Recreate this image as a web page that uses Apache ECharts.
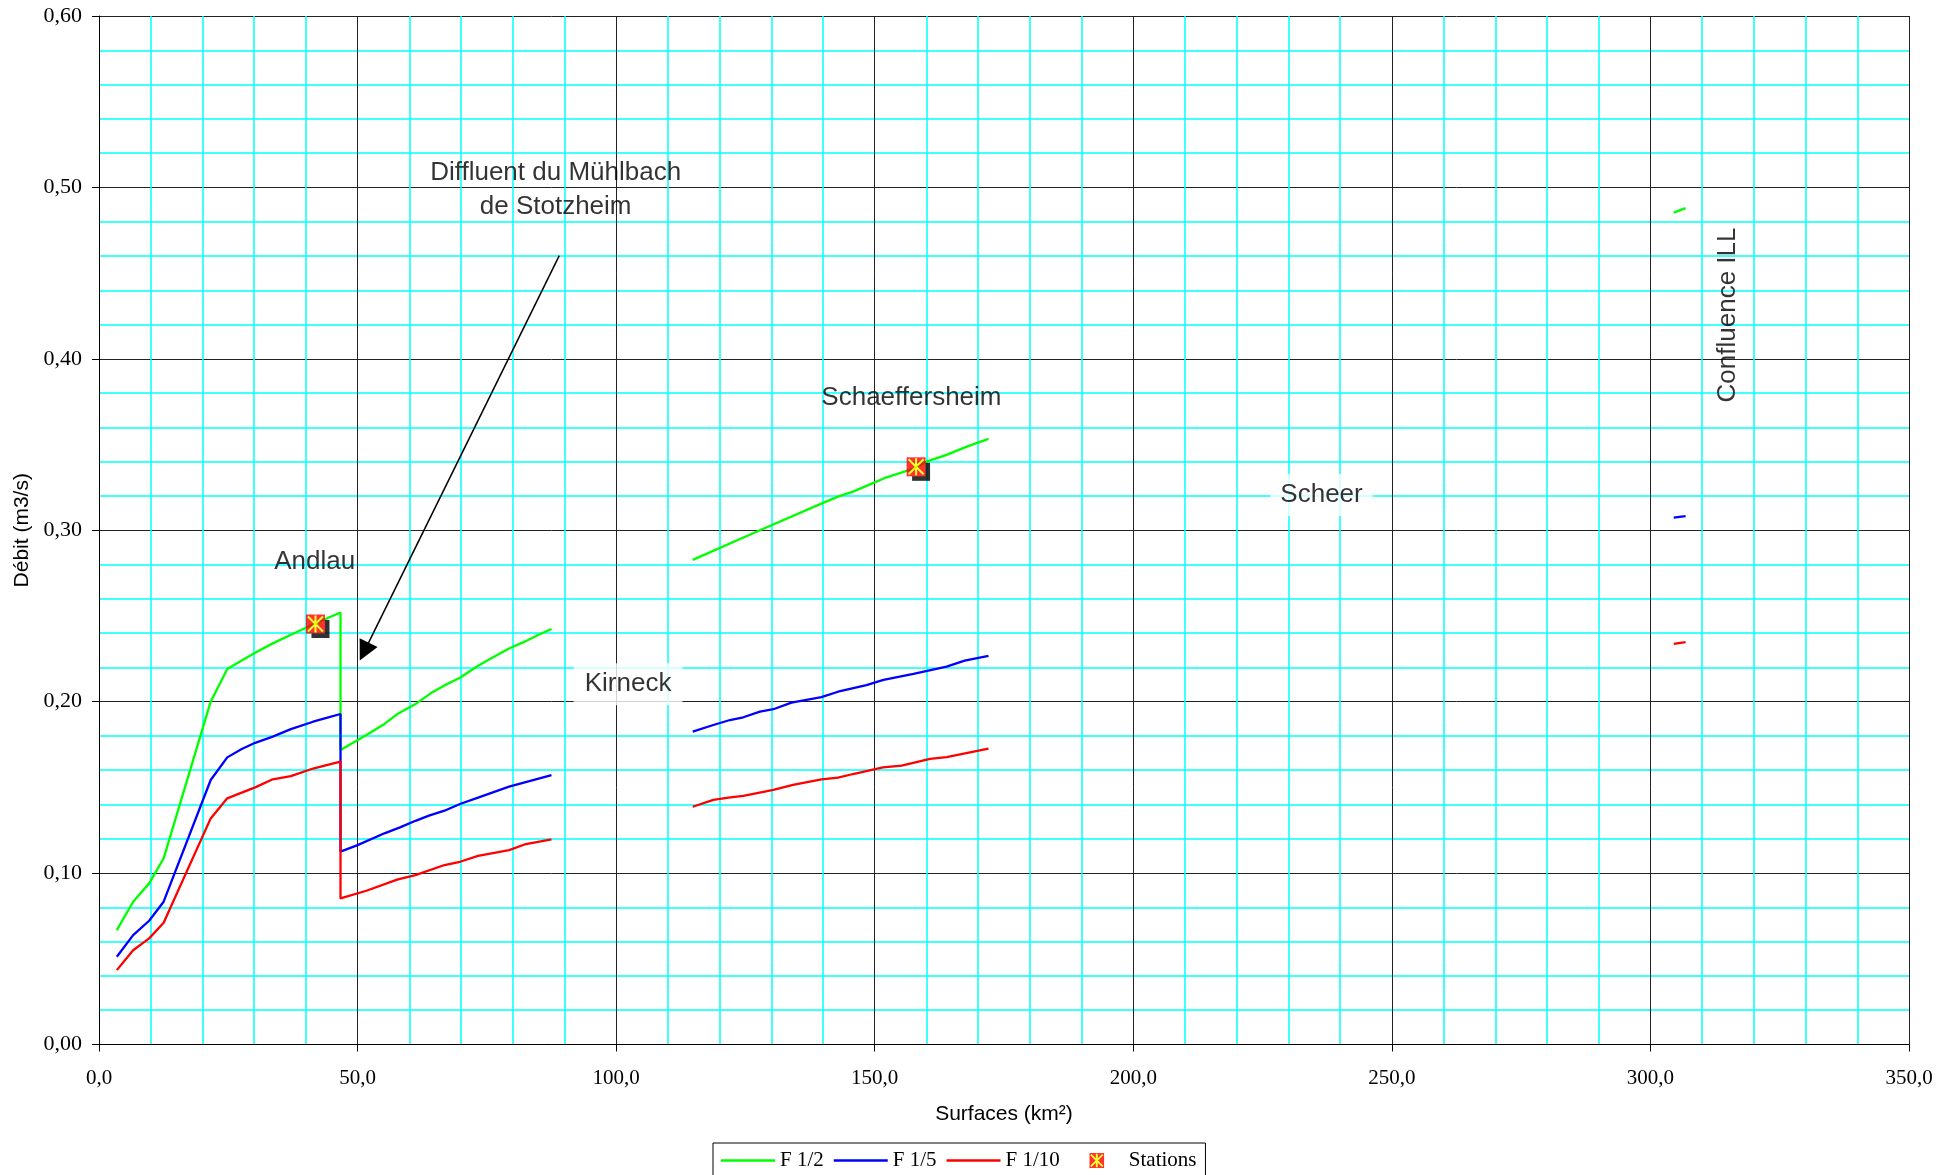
<!DOCTYPE html>
<html>
<head>
<meta charset="utf-8">
<script src="https://cdn.jsdelivr.net/npm/echarts@6/dist/echarts.min.js"></script>
<style>
html,body{margin:0;padding:0;background:#fff;}
#chart{width:1957px;height:1175px;}
</style>
</head>
<body>
<div id="chart"></div>
<script>
// ---- Data (surface km², débit m3/s) ----
// Segment 1 : Andlau (amont + diffluent du Mühlbach)
const F12_andlau = [[3.45,0.0667],[6.6,0.0833],[9.7,0.094],[12.5,0.1086],[21.6,0.200],[24.8,0.219],[27.6,0.224],[30.2,0.2285],[33.6,0.234],[37.1,0.239],[41.4,0.245],[44.0,0.2485],[46.7,0.252],
  [46.7,0.1718],[51.7,0.1805],[55.2,0.187],[57.8,0.193],[61.2,0.1986],[64.2,0.205],[66.8,0.2095],[69.8,0.214],[73.3,0.221],[76.3,0.226],[79.3,0.231],[82.3,0.235],[85.0,0.239],[87.5,0.2424]];
const F15_andlau = [[3.45,0.0512],[6.6,0.0638],[9.7,0.0722],[12.5,0.0833],[21.6,0.1543],[24.8,0.1675],[27.6,0.1724],[30.2,0.176],[33.6,0.1796],[37.1,0.184],[41.4,0.1883],[44.0,0.1905],[46.7,0.1928],
  [46.7,0.1125],[50.0,0.1163],[55.2,0.1232],[58.2,0.1267],[61.2,0.1305],[63.8,0.1335],[66.8,0.1364],[69.8,0.1403],[73.3,0.144],[79.3,0.1504],[87.5,0.1572]];
const F110_andlau = [[3.45,0.0434],[6.6,0.055],[9.7,0.0619],[12.5,0.071],[21.6,0.1319],[24.8,0.1436],[27.6,0.1469],[30.2,0.150],[33.6,0.1547],[37.1,0.1566],[41.4,0.161],[44.0,0.163],[46.7,0.165],
  [46.7,0.0852],[51.7,0.0897],[57.8,0.0963],[61.2,0.0988],[66.8,0.1047],[69.8,0.1066],[73.3,0.110],[79.3,0.1134],[82.3,0.1167],[87.5,0.1197]];
// Segment 2 : Schaeffersheim
const F12_schaef = [[114.8,0.2827],[127.8,0.300],[139.9,0.3158],[142.9,0.3196],[145.8,0.3225],[149.9,0.3278],[152.3,0.3309],[157.5,0.336],[160.0,0.340],[163.9,0.344],[167.8,0.3488],[172.0,0.3533]];
const F15_schaef = [[114.8,0.1825],[118.8,0.1864],[122.0,0.1893],[124.6,0.1909],[127.8,0.1942],[130.4,0.1956],[133.9,0.1994],[139.7,0.2026],[142.9,0.2058],[148.4,0.2097],[151.7,0.2127],[157.5,0.2162],[163.9,0.2204],[167.4,0.2239],[172.0,0.2267]];
const F110_schaef = [[114.8,0.1387],[118.8,0.1427],[121.7,0.1440],[124.6,0.145],[130.4,0.1485],[134.2,0.1514],[139.7,0.1547],[142.9,0.1557],[145.8,0.1578],[151.6,0.1617],[155.2,0.1627],[160.7,0.1666],[163.9,0.1676],[172.0,0.1726]];
// Segment 3 : Confluence Ill
const F12_ill = [[304.5,0.4853],[306.8,0.4879]];
const F15_ill = [[304.5,0.3073],[306.8,0.3083]];
const F110_ill = [[304.5,0.2337],[306.8,0.2347]];
// Stations
const stationNames = ['Andlau','Schaeffersheim'];
const stationPoints = [[41.86,0.2453],[158.0,0.337]];
// Annotations
const annotationTexts = ['Andlau','Kirneck','Schaeffersheim','Scheer','Confluence ILL','Diffluent du Mühlbach\nde Stotzheim'];
const annotationAnchors = [[41.7,0.2815],[102.3,0.2102],[157.1,0.3775],[236.4,0.3205],[314.9,0.4256],[88.3,0.4985]];
const arrowFrom = [89.0,0.4602];
const arrowTo = [51.28,0.2292];
// Axis
const xMin = 0, xMax = 350, xStep = 50;
const yMin = 0, yMax = 0.6, yStep = 0.1;
const seriesNames = ['F 1/2','F 1/5','F 1/10','Stations'];

// ---- Styles ----
const colors = {'F 1/2':'#00ff00','F 1/5':'#0000ff','F 1/10':'#ff0000'};
const markerSvg = '<svg xmlns="http://www.w3.org/2000/svg" width="31" height="31" viewBox="0 0 31 31">' +
  '<rect x="11.5" y="11.5" width="18" height="18" fill="#000"/>' +
  '<rect x="6" y="6" width="19" height="19" fill="#ff0000"/>' +
  '<path d="M8 8 L23 23 M23 8 L8 23 M15.5 7 L15.5 24" stroke="#ffff00" stroke-width="2" fill="none"/></svg>';
const legendSvg = '<svg xmlns="http://www.w3.org/2000/svg" width="15" height="15" viewBox="0 0 19 19">' +
  '<rect x="0" y="0" width="19" height="19" fill="#ff0000"/>' +
  '<path d="M2 2 L17 17 M17 2 L2 17 M9.5 1 L9.5 18" stroke="#ffff00" stroke-width="2.4" fill="none"/></svg>';
const markerIcon = 'image://data:image/svg+xml;charset=utf-8,' + encodeURIComponent(markerSvg);
const legendIcon = 'image://data:image/svg+xml;charset=utf-8,' + encodeURIComponent(legendSvg);
const lineIcon = 'path://M0,0 L54,0 L54,2.5 L0,2.5 Z';

function lineSeries(name, data) {
  return {
    name: name, type: 'line', data: data, symbol: 'none', smooth: false,
    lineStyle: {color: colors[name], width: 2.3}, itemStyle: {color: colors[name]},
    emphasis: {disabled: true}, silent: true, z: 3
  };
}

const chart = echarts.init(document.getElementById('chart'), null, {renderer: 'canvas'});
const option = {
  backgroundColor: '#ffffff',
  animation: false,
  grid: {left: 99, right: 48, top: 16, bottom: 130.5, containLabel: false},
  legend: {
    left: 713, top: 1143, orient: 'horizontal',
    itemWidth: 54, itemHeight: 15, itemGap: 10,
    padding: [7, 9, 14, 8],
    borderColor: '#000', borderWidth: 1, backgroundColor: '#fff',
    textStyle: {fontFamily: 'Liberation Serif', fontSize: 21, color: '#000'},
    selectedMode: false,
    data: [{name: seriesNames[0], icon: lineIcon}, {name: seriesNames[1], icon: lineIcon}, {name: seriesNames[2], icon: lineIcon}, {name: seriesNames[3], icon: legendIcon}]
  },
  xAxis: {
    type: 'value', min: xMin, max: xMax, interval: xStep,
    name: 'Surfaces (km²)', nameLocation: 'middle', nameGap: 59,
    nameTextStyle: {fontFamily: 'Liberation Sans', fontSize: 21, color: '#000'},
    axisLine: {show: true, onZero: false, lineStyle: {color: '#000', width: 1}},
    axisTick: {show: true, length: 7, lineStyle: {color: '#000'}},
    axisLabel: {formatter: v => v.toFixed(1).replace('.', ','), fontFamily: 'Liberation Serif', fontSize: 21, color: '#000', margin: 23},
    splitLine: {show: true, lineStyle: {color: '#222', width: 1}},
    minorTick: {show: false, splitNumber: 5},
    minorSplitLine: {show: true, lineStyle: {color: '#00ffff', width: 1.5}}
  },
  yAxis: {
    type: 'value', min: yMin, max: yMax, interval: yStep,
    name: 'Débit (m3/s)', nameLocation: 'middle', nameGap: 65,
    nameTextStyle: {fontFamily: 'Liberation Sans', fontSize: 21, color: '#000'},
    axisLine: {show: true, onZero: false, lineStyle: {color: '#000', width: 1}},
    axisTick: {show: true, length: 7, lineStyle: {color: '#000'}},
    axisLabel: {formatter: v => v.toFixed(2).replace('.', ','), fontFamily: 'Liberation Serif', fontSize: 22, color: '#000', margin: 17},
    splitLine: {show: true, lineStyle: {color: '#222', width: 1}},
    minorTick: {show: false, splitNumber: 5},
    minorSplitLine: {show: true, lineStyle: {color: '#00ffff', width: 1.5}}
  },
  series: [
    lineSeries('F 1/2', F12_andlau), lineSeries('F 1/2', F12_schaef), lineSeries('F 1/2', F12_ill),
    lineSeries('F 1/5', F15_andlau), lineSeries('F 1/5', F15_schaef), lineSeries('F 1/5', F15_ill),
    lineSeries('F 1/10', F110_andlau), lineSeries('F 1/10', F110_schaef), lineSeries('F 1/10', F110_ill),
    {
      name: 'Stations', type: 'scatter', symbol: markerIcon, symbolSize: 31,
      data: stationPoints.map((p, i) => ({name: stationNames[i], value: p})),
      itemStyle: {color: '#ff0000'}, emphasis: {disabled: true}, silent: true, z: 6
    },
    {
      name: 'annotations', type: 'scatter', symbolSize: 1,
      itemStyle: {color: 'rgba(0,0,0,0)'},
      silent: true, z: 7, emphasis: {disabled: true},
      label: {show: true, position: 'inside', formatter: p => p.name, fontFamily: 'Liberation Sans', fontSize: 26, color: '#000', textBorderWidth: 0, align: 'center', verticalAlign: 'middle'},
      data: annotationTexts.map((t, i) => {
        const item = {name: t, value: annotationAnchors[i]};
        if (t === 'Kirneck') item.label = {backgroundColor: '#fff', padding: [8, 11, 8, 11]};
        if (t === 'Scheer') item.label = {backgroundColor: '#fff', padding: [8, 10, 8, 10]};
        if (t === 'Confluence ILL') item.label = {rotate: 90};
        if (t.indexOf('\n') >= 0) item.label = {lineHeight: 34};
        return item;
      }),
      markLine: {
        silent: true, animation: false,
        symbol: ['none', 'triangle'], symbolSize: [20, 20],
        lineStyle: {color: '#000', width: 1.5, type: 'solid'},
        itemStyle: {color: '#000'},
        label: {show: false}, emphasis: {disabled: true},
        data: [[{coord: arrowFrom}, {coord: arrowTo}]]
      }
    }
  ]
};
chart.setOption(option);
</script>
</body>
</html>
